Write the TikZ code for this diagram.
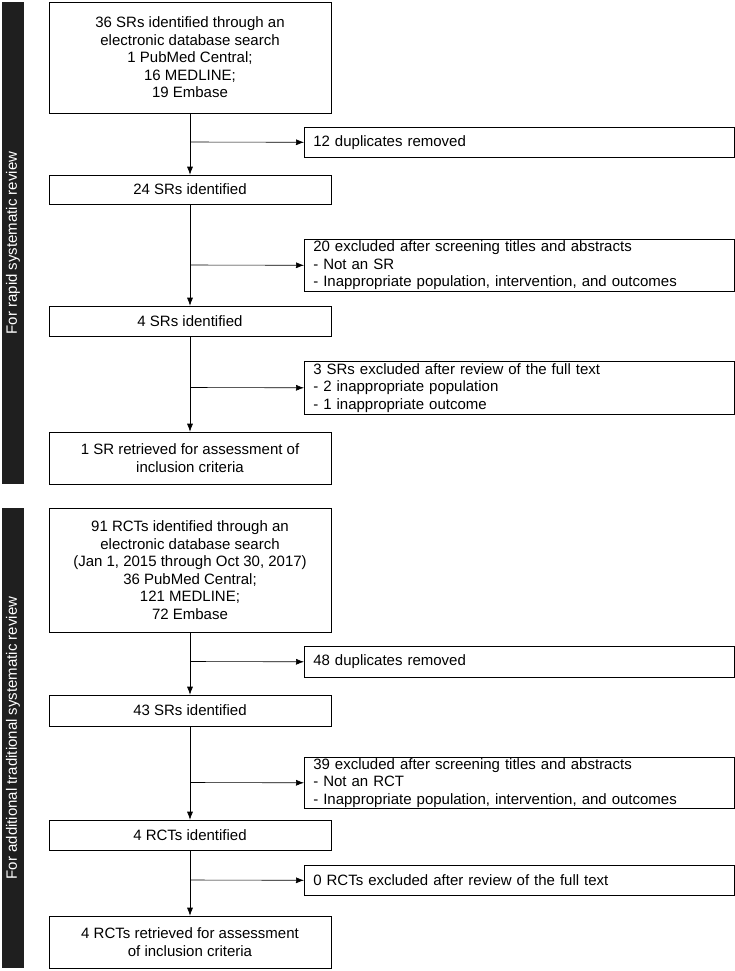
\documentclass[tikz,border=0pt]{standalone}
\usepackage{fontspec}
\setmainfont{Liberation Sans}
\usetikzlibrary{arrows.meta}
\begin{document}
\begin{tikzpicture}[x=1pt,y=-1pt,
  every node/.style={font=\fontsize{15}{17.5}\selectfont},
  mainbox/.style={draw, line width=0.6pt, align=center, inner sep=0pt},
  sidebox/.style={draw, line width=0.6pt, align=left, anchor=north west, inner xsep=9pt, inner ysep=0pt, text width=412pt},
  flow/.style={line width=0.6pt},
  arr/.style={line width=0.6pt, -{Latex[length=8pt,width=6pt]}}]
  \useasboundingbox (0,0) rectangle (735,971);
  % side bars
  \fill[black!88] (2,2) rectangle (24,484);
  \node[rotate=90, text=white] (barA) at (13,243) {For rapid systematic review};
  \fill[black!88] (2,508) rectangle (24,968);
  \node[rotate=90, text=white] (barB) at (13,738) {For additional traditional systematic review};
  % first review
  \node[mainbox, minimum width=282pt, minimum height=111pt] (sr1) at (190,57.5) {36 SRs identified through an\\electronic database search\\1 PubMed Central;\\16 MEDLINE;\\19 Embase};
  \node[mainbox, minimum width=282pt, minimum height=29pt] (sr2) at (190,189.5) {24 SRs identified};
  \node[mainbox, minimum width=282pt, minimum height=30pt] (sr3) at (190,321) {4 SRs identified};
  \node[mainbox, minimum width=282pt, minimum height=52pt] (sr4) at (190,458) {1 SR retrieved for assessment of\\inclusion criteria};
  \node[sidebox, minimum height=30pt] (ex1) at (304,127) {12 duplicates removed};
  \node[sidebox, minimum height=52pt] (ex2) at (304,239) {20 excluded after screening titles and abstracts\\- Not an SR\\- Inappropriate population, intervention, and outcomes};
  \node[sidebox, minimum height=53pt] (ex3) at (304,361) {3 SRs excluded after review of the full text\\- 2 inappropriate population\\- 1 inappropriate outcome};
  \draw[arr] (sr1) -- (sr2);
  \draw[arr] (sr2) -- (sr3);
  \draw[arr] (sr3) -- (sr4);
  \draw[arr] (190,142) -- (ex1.west);
  \draw[arr] (190,265) -- (ex2.west);
  \draw[arr] (190,387.5) -- (ex3.west);
  % second review
  \node[mainbox, minimum width=282pt, minimum height=124pt] (rct1) at (190,570) {91 RCTs identified through an\\electronic database search\\(Jan 1, 2015 through Oct 30, 2017)\\36 PubMed Central;\\121 MEDLINE;\\72 Embase};
  \node[mainbox, minimum width=282pt, minimum height=31pt] (rct2) at (190,710.5) {43 SRs identified};
  \node[mainbox, minimum width=282pt, minimum height=30pt] (rct3) at (190,835) {4 RCTs identified};
  \node[mainbox, minimum width=282pt, minimum height=52pt] (rct4) at (190,942) {4 RCTs retrieved for assessment\\of inclusion criteria};
  \node[sidebox, minimum height=31pt] (ex4) at (304,646) {48 duplicates removed};
  \node[sidebox, minimum height=51pt] (ex5) at (304,757) {39 excluded after screening titles and abstracts\\- Not an RCT\\- Inappropriate population, intervention, and outcomes};
  \node[sidebox, minimum height=30pt] (ex6) at (304,865) {0 RCTs excluded after review of the full text};
  \draw[arr] (rct1) -- (rct2);
  \draw[arr] (rct2) -- (rct3);
  \draw[arr] (rct3) -- (rct4);
  \draw[arr] (190,661.5) -- (ex4.west);
  \draw[arr] (190,782.5) -- (ex5.west);
  \draw[arr] (190,880) -- (ex6.west);
\end{tikzpicture}
\end{document}
